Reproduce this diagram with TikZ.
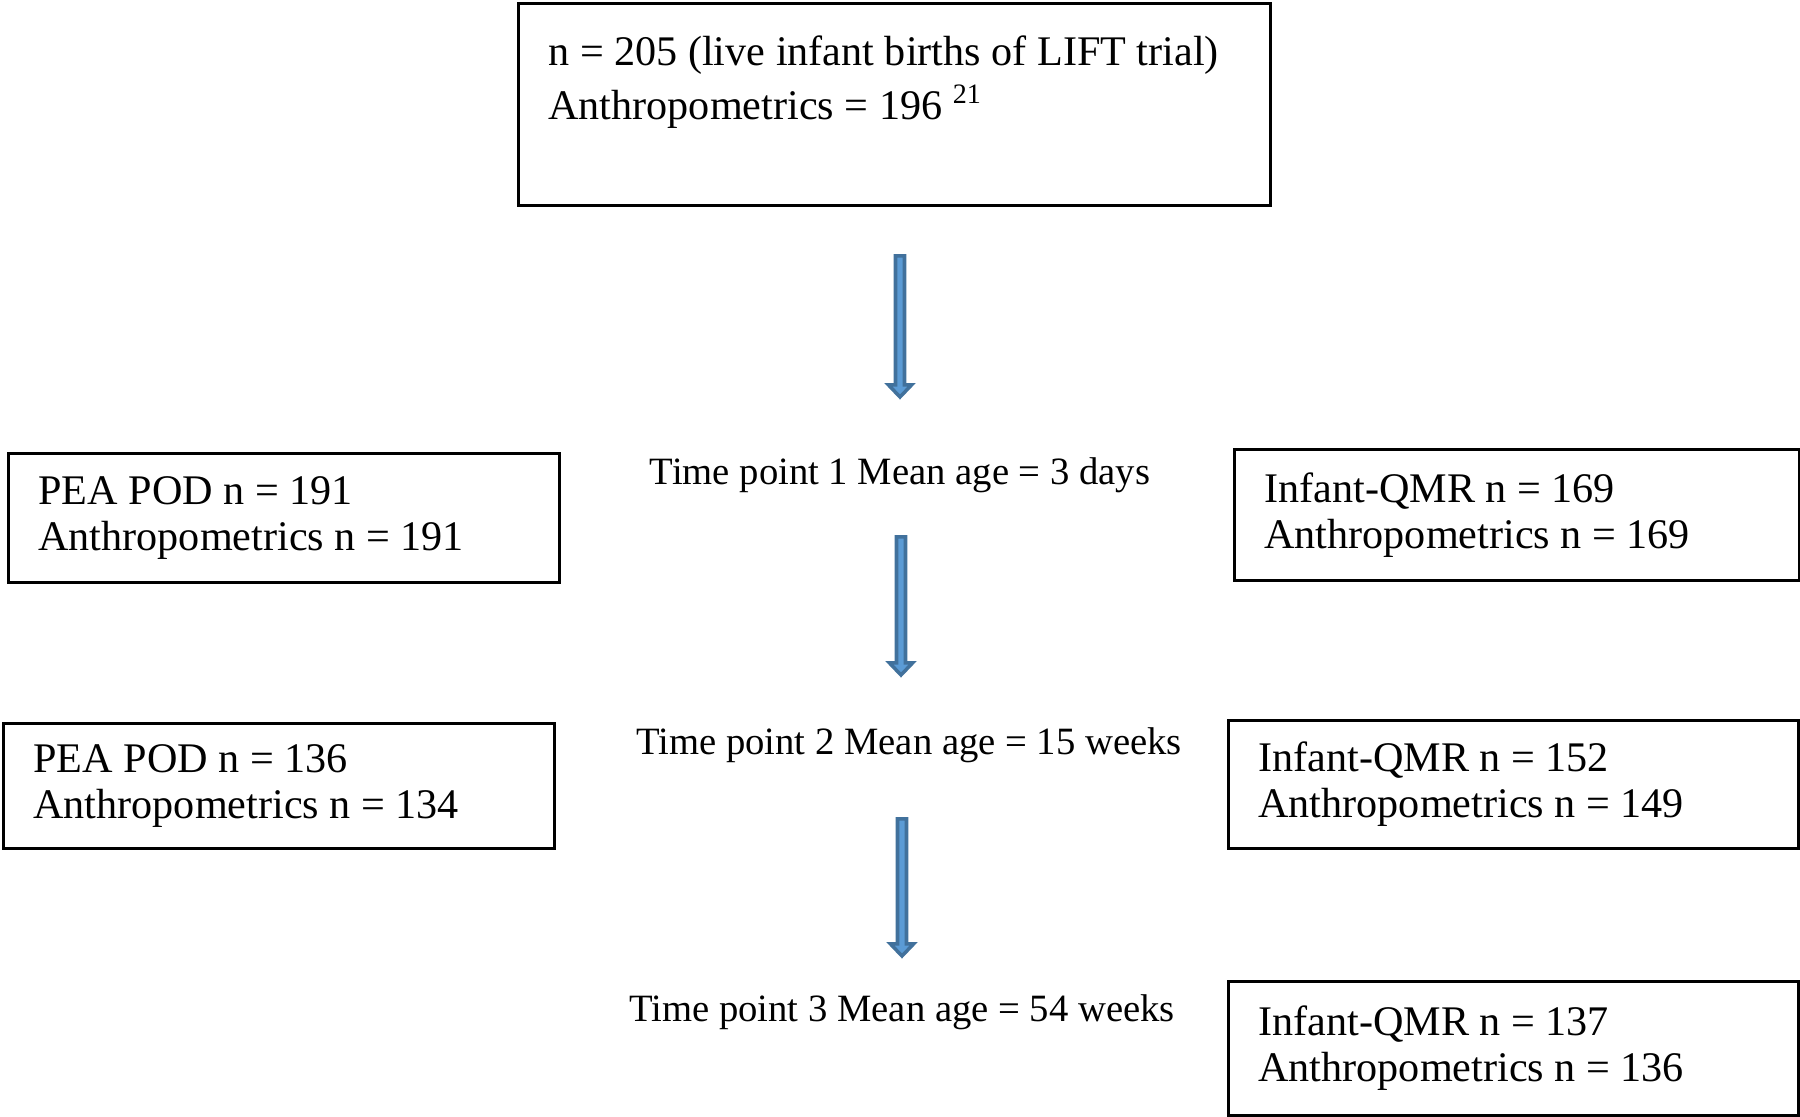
\documentclass[tikz,border=0pt]{standalone}
\usepackage{fontspec}
\setmainfont{Liberation Serif}
\usetikzlibrary{calc}
\definecolor{arrowfill}{HTML}{5B9BD5}
\definecolor{arrowline}{HTML}{41719C}

\begin{document}
\begin{tikzpicture}[
        box/.style={draw, thick, rectangle, anchor=north west, align=flush left, inner xsep=0.3cm, inner ysep=0pt, font=\fontsize{12}{13.2}\selectfont},
        timepoint/.style={font=\fontsize{11}{13}\selectfont, inner sep=0pt},
        blockarrow/.style={draw=arrowline, fill=arrowfill, line width=1pt, line join=miter,
            to path={let \p1=(\tikztostart), \p2=(\tikztotarget) in
                (\x1-0.045cm,\y1) -- (\x1+0.045cm,\y1) -- (\x1+0.045cm,\y2+0.12cm) -- (\x1+0.115cm,\y2+0.12cm)
                -- (\x1,\y2) -- (\x1-0.115cm,\y2+0.12cm) -- (\x1-0.045cm,\y2+0.12cm) -- cycle}},
    ]
    \useasboundingbox (0,0) rectangle (18,11.17);
    \node[box, text width=6.92cm, minimum height=2.02cm, font=\fontsize{12}{15.3}\selectfont](births) at (5.17,11.15)
        {n = 205 (live infant births of LIFT trial)\\Anthropometrics = 196 \textsuperscript{21}\\\mbox{}};
    \node[box, text width=4.91cm, minimum height=1.29cm](peapod1) at (0.07,6.65) {PEA POD n = 191\\Anthropometrics n = 191};
    \node[box, text width=4.91cm, minimum height=1.25cm](peapod2) at (0.02,3.95) {PEA POD n = 136\\Anthropometrics n = 134};
    \node[box, text width=5.05cm, minimum height=1.31cm](qmr1) at (12.33,6.69) {Infant-QMR n = 169\\Anthropometrics n = 169};
    \node[box, text width=5.1cm, minimum height=1.28cm](qmr2) at (12.27,3.98) {Infant-QMR n = 152\\Anthropometrics n = 149};
    \node[box, text width=5.1cm, minimum height=1.34cm](qmr3) at (12.27,1.37) {Infant-QMR n = 137\\Anthropometrics n = 136};
    \node[timepoint](tp1) at (9.0,6.42) {Time point 1 Mean age = 3 days};
    \node[timepoint](tp2) at (9.09,3.72) {Time point 2 Mean age = 15 weeks};
    \node[timepoint](tp3) at (9.02,1.05) {Time point 3 Mean age = 54 weeks};
    \coordinate (a1top) at (9.0,8.61);
    \coordinate (a1tip) at (9.0,7.20);
    \coordinate (a2top) at (9.01,5.80);
    \coordinate (a2tip) at (9.01,4.42);
    \coordinate (a3top) at (9.02,2.98);
    \coordinate (a3tip) at (9.02,1.61);
    \draw[blockarrow] (a1top) to (a1tip);
    \draw[blockarrow] (a2top) to (a2tip);
    \draw[blockarrow] (a3top) to (a3tip);
\end{tikzpicture}
\end{document}
